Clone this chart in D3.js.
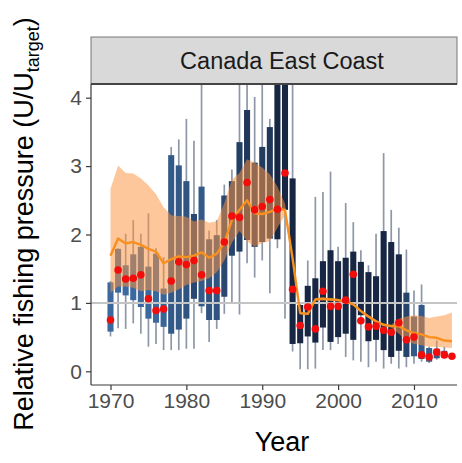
<!DOCTYPE html>
<html><head><meta charset="utf-8">
<script src="https://cdn.jsdelivr.net/npm/d3@7"></script>
<style>
body{margin:0;background:#fff}
svg{display:block;font-family:"Liberation Sans",Arial,Helvetica,sans-serif}
</style>
</head><body>
<svg id="chart" width="462" height="463"></svg>
<script>
// ---------------- data ----------------
const years      = [1970,1971,1972,1973,1974,1975,1976,1977,1978,1979,1980,1981,1982,1983,1984,1985,1986,1987,1988,1989,1990,1991,1992,1993,1994,1995,1996,1997,1998,1999,2000,2001,2002,2003,2004,2005,2006,2007,2008,2009,2010,2011,2012,2013,2014,2015];
const whiskerHi  = [1.32,1.80,2.01,2.21,2.01,2.31,1.80,1.67,3.28,3.39,3.69,3.37,4.50,2.06,2.21,2.73,2.95,4.50,4.50,4.01,4.50,3.69,4.50,4.50,4.50,1.00,1.62,2.55,2.62,2.92,1.82,2.46,2.18,1.77,1.55,2.01,3.19,2.36,2.10,1.78,1.18,1.27,0.36,0.45,0.36,null];
const boxHi      = [1.30,1.79,1.55,1.71,1.82,1.53,1.72,1.21,3.16,3.01,2.78,2.30,2.70,1.93,1.99,2.57,2.78,3.35,3.82,3.05,3.28,3.57,4.50,4.50,2.82,0.97,1.25,1.36,1.61,1.77,1.61,1.66,1.75,1.60,1.45,1.39,2.05,1.89,1.71,1.15,0.80,0.97,0.34,0.33,0.30,null];
const boxLo      = [0.58,1.15,1.11,1.04,0.94,0.77,0.71,0.65,0.55,0.61,0.77,1.06,0.95,0.75,0.75,1.09,1.69,1.75,1.92,1.82,1.89,1.94,1.93,2.36,0.40,0.41,0.51,0.42,0.64,0.43,0.50,0.55,0.46,0.82,0.44,0.46,0.31,0.21,0.30,0.21,0.22,0.18,0.14,0.19,0.20,null];
const whiskerLo  = [0.51,0.63,0.62,0.70,0.55,0.36,0.40,0.31,0.31,0.31,0.33,0.33,0.85,0.43,0.62,0.84,1.00,0.83,1.58,1.37,1.62,1.14,1.80,0.77,0.29,0.03,0.03,0.04,0.31,0.31,0.40,0.21,0.16,0.14,0.06,0.14,0.04,0.11,0.04,0.06,0.11,0.14,0.12,0.17,0.19,null];
const boxShade   = [0.15,0.15,0.15,0.15,0.15,0.15,0.15,0.2,0.35,0.35,0.4,0.55,0.35,0.4,0.4,0.55,0.6,0.65,0.75,0.7,0.7,0.75,0.95,0.95,0.95,0.95,0.95,0.95,0.95,0.95,0.95,0.95,0.95,0.95,0.95,0.95,0.95,0.95,0.9,0.6,0.35,0.35,0.3,0.3,0.3,0.3];
const observed   = [0.75,1.48,1.35,1.36,1.41,1.06,0.89,0.91,1.32,1.60,1.56,1.62,1.41,1.18,1.18,1.89,2.27,2.25,2.76,2.36,2.41,2.51,2.37,2.90,1.20,0.67,0.94,0.62,1.17,0.95,0.95,1.04,1.42,0.74,0.65,0.66,0.60,0.57,0.71,0.46,0.50,0.24,0.21,0.28,0.24,0.22];
const trend      = [1.69,1.94,1.87,1.89,1.85,1.79,1.75,1.58,1.64,1.68,1.67,1.69,1.74,1.66,1.72,1.88,2.21,2.36,2.50,2.31,2.30,2.33,2.38,2.36,1.65,0.85,0.84,1.05,1.06,1.05,1.04,1.02,0.98,0.88,0.80,0.73,0.68,0.66,0.66,0.60,0.56,0.54,0.50,0.49,0.45,0.44];
const ribbonLo   = [1.15,1.24,1.24,1.22,1.17,1.19,1.17,1.12,1.15,1.20,1.26,1.30,1.32,1.36,1.45,1.62,1.88,2.05,1.90,1.82,1.88,1.90,2.10,2.28,1.63,0.83,0.82,1.03,1.04,1.03,1.02,1.00,0.96,0.86,0.78,0.71,0.66,0.64,0.55,0.45,0.40,0.38,0.36,0.36,0.35,0.34];
const ribbonHi   = [2.67,3.01,2.90,2.89,2.82,2.72,2.59,2.40,2.28,2.27,2.26,2.19,2.22,2.17,2.19,2.46,2.80,2.90,3.10,3.05,2.98,2.88,2.70,2.45,1.67,0.87,0.86,1.07,1.08,1.07,1.06,1.04,1.00,0.90,0.82,0.75,0.70,0.68,0.77,0.80,0.82,0.81,0.78,0.80,0.82,0.86];
const xTicks = [1970,1980,1990,2000,2010];
const yTicks = [0,1,2,3,4];
const stripLabel = "Canada East Coast";

// ---------------- layout ----------------
const svg = d3.select("#chart");
const P = {left:91, right:457, top:84, bottom:385};
const x = d3.scaleLinear().domain([1967.43, 2015.67]).range([P.left, P.right]);
const y = d3.scaleLinear().domain([-0.2, 4.2]).range([P.bottom, P.top]);
const shade = d3.scaleLinear().domain([0,1]).range(["#4276b0","#14223d"]).interpolate(d3.interpolateRgb);

const rows = years.map((yr,i)=>({yr, wHi:whiskerHi[i], bHi:boxHi[i], bLo:boxLo[i], wLo:whiskerLo[i],
  s:boxShade[i], obs:observed[i], tr:trend[i], rLo:ribbonLo[i], rHi:ribbonHi[i]}));

svg.append("defs").append("clipPath").attr("id","clip")
  .append("rect").attr("x",P.left).attr("y",P.top).attr("width",P.right-P.left).attr("height",P.bottom-P.top);

const g = svg.append("g").attr("clip-path","url(#clip)");
const withBox = rows.filter(d=>d.bHi!=null);
const bw = (x(1971)-x(1970))*0.8;

// whiskers
g.selectAll("line.wh").data(withBox).join("line").attr("class","wh")
  .attr("x1",d=>x(d.yr)).attr("x2",d=>x(d.yr))
  .attr("y1",d=>y(d.wHi)).attr("y2",d=>y(d.wLo))
  .attr("stroke","#8d97a8").attr("stroke-width",1.7);

// boxes
g.selectAll("rect.bx").data(withBox).join("rect").attr("class","bx")
  .attr("x",d=>x(d.yr)-bw/2).attr("width",bw)
  .attr("y",d=>y(d.bHi)).attr("height",d=>y(d.bLo)-y(d.bHi))
  .attr("fill",d=>shade(d.s));

// reference line at 1
g.append("line").attr("x1",P.left).attr("x2",P.right).attr("y1",y(1)).attr("y2",y(1))
  .attr("stroke","#c4c4c4").attr("stroke-width",2);

// ribbon
g.append("path").datum(rows)
  .attr("d",d3.area().x(d=>x(d.yr)).y0(d=>y(d.rLo)).y1(d=>y(d.rHi)))
  .attr("fill","#fd9440").attr("fill-opacity",0.52);

// trend line
g.append("path").datum(rows)
  .attr("d",d3.line().x(d=>x(d.yr)).y(d=>y(d.tr)))
  .attr("fill","none").attr("stroke","#f7901e").attr("stroke-width",2.4).attr("stroke-linejoin","round");

// observed points
g.selectAll("circle.ob").data(rows).join("circle").attr("class","ob")
  .attr("cx",d=>x(d.yr)).attr("cy",d=>y(d.obs)).attr("r",3.8).attr("fill","#f20d0d");

// axes
const xAxis = svg.append("g").attr("transform",`translate(0,${P.bottom})`)
  .call(d3.axisBottom(x).tickValues(xTicks).tickFormat(d3.format("d")).tickSize(5).tickSizeOuter(0).tickPadding(3));
const yAxis = svg.append("g").attr("transform",`translate(${P.left},0)`)
  .call(d3.axisLeft(y).tickValues(yTicks).tickFormat(d3.format("d")).tickSize(5).tickSizeOuter(0).tickPadding(4));
[xAxis,yAxis].forEach(a=>{
  a.select(".domain").attr("stroke","#3a3a3a").attr("stroke-width",1.2);
  a.selectAll(".tick line").attr("stroke","#3a3a3a").attr("stroke-width",1.2);
  a.selectAll(".tick text").attr("fill","#4d4d4d").style("font-size","21px").style("font-family",null);
});
yAxis.select(".domain").attr("d",`M0,${P.top}V${P.bottom}`);
xAxis.select(".domain").attr("d",`M${P.left},0H${P.right}`);

// strip
svg.append("rect").attr("x",P.left).attr("y",37).attr("width",P.right-P.left).attr("height",P.top-37)
  .attr("fill","#d9d9d9").attr("stroke","#777").attr("stroke-width",1);
svg.append("line").attr("x1",P.left).attr("x2",P.right).attr("y1",P.top).attr("y2",P.top)
  .attr("stroke","#444").attr("stroke-width",2);
svg.append("text").attr("x",282).attr("y",69).attr("text-anchor","middle")
  .style("font-size","23.5px").attr("fill","#1a1a1a").text(stripLabel);

// axis titles
svg.append("text").attr("x",282).attr("y",451).attr("text-anchor","middle")
  .style("font-size","27px").attr("fill","#000").text("Year");
const yt = svg.append("text").attr("transform","translate(33,224) rotate(-90)").attr("text-anchor","middle")
  .style("font-size","27px").attr("fill","#000");
yt.append("tspan").text("Relative fishing pressure (U/U");
yt.append("tspan").attr("dy",6).style("font-size","18px").text("target");
yt.append("tspan").attr("dy",-6).text(")");
</script>
</body></html>
